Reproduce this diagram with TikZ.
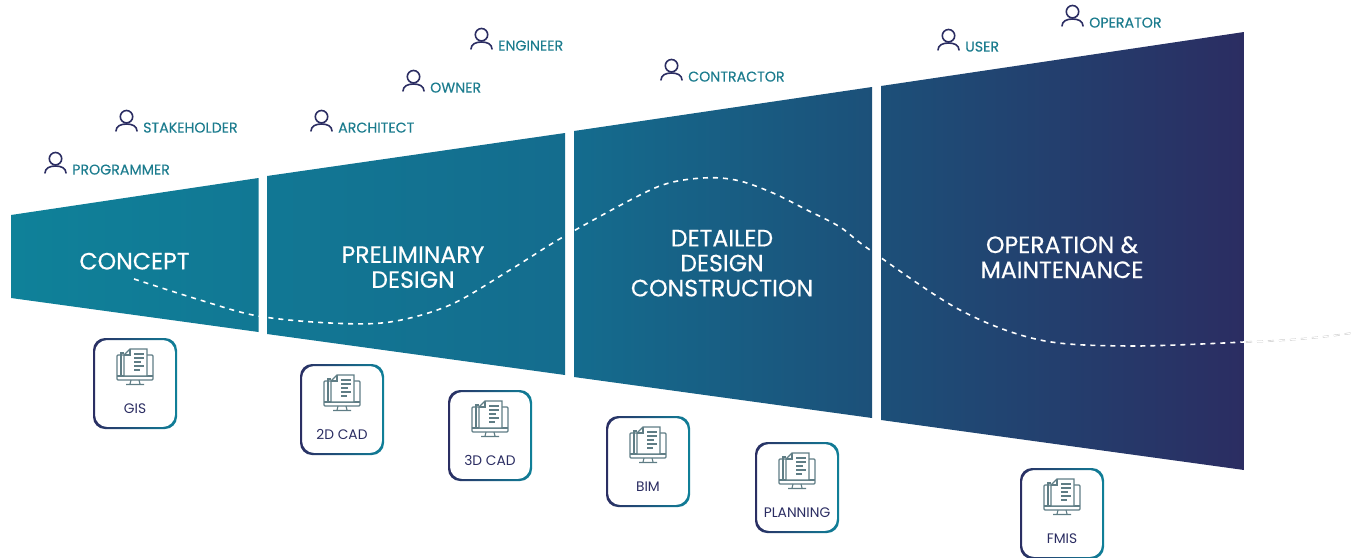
\documentclass[tikz,border=0pt]{standalone}
\usepackage{fontspec}
\setmainfont{Poppins}
\newfontfamily\heavyfont[FakeBold=0.35]{Poppins}
\newfontfamily\midfont[FakeBold=0.2]{Poppins}
\usetikzlibrary{calc}
\definecolor{teal1}{HTML}{0F8199}
\definecolor{grada}{HTML}{146C8E}
\definecolor{gradb}{HTML}{1C5079}
\definecolor{navy1}{HTML}{2B2D62}
\definecolor{labelteal}{HTML}{1C7C8E}
\definecolor{icongray}{HTML}{5F7D85}
\pgfdeclarehorizontalshading{funnelgrad}{100bp}{
  color(0bp)=(teal1);
  color(25bp)=(teal1);
  color(47.85bp)=(grada);
  color(60bp)=(gradb);
  color(75bp)=(navy1);
  color(100bp)=(navy1)}
\tikzset{
  x=1pt,y=-1pt,
  phase/.style={text=white,font=\heavyfont\fontsize{23.6}{25}\selectfont,align=center,inner sep=0pt},
  rolelabel/.style={text=labelteal,font=\midfont\fontsize{14.2}{15}\selectfont,anchor=west,inner sep=0pt},
  toollabel/.style={text=navy1,font=\fontsize{13.8}{15}\selectfont,inner sep=0pt},
  personline/.style={draw=navy1,line width=1.6pt,line cap=round},
  iconline/.style={draw=icongray,line width=1.1pt},
  curveline/.style={white,line width=1.6pt,dash pattern=on 5pt off 5pt},
}
% role: name, icon x, icon y, text
\newcommand{\rolepin}[4]{%
  \draw[personline] (#2+0.5,#3-4.3) circle (6.2);
  \draw[personline] (#2-10,#3+10) .. controls (#2-10,#3+5) and (#2-5,#3+3) .. (#2+0.5,#3+3)
     .. controls (#2+6,#3+3) and (#2+11,#3+5) .. (#2+11,#3+10);
  \node[rolelabel] (#1) at (#2+17,#3+6.6) {#4};
}
% tool: name, left, top, text
\newcommand{\toolcard}[4]{%
  \begin{scope}[even odd rule]
    \clip[rounded corners=12pt] (#2-1,#3-1) rectangle (#2+83,#3+90)
      (#2+1,#3+1) rectangle (#2+81,#3+88);
    \shade[left color=navy1,right color=teal1] (#2-2,#3-2) rectangle (#2+84,#3+91);
  \end{scope}
  \begin{scope}[shift={(#2+41,#3)}]
    \draw[iconline,rounded corners=1pt] (-11,16) -- (-18,16) -- (-18,41) -- (18,41) -- (18,16) -- (12,16);
    \draw[iconline] (-18,37) -- (18,37);
    \draw[iconline] (-4,41) -- (-5,45) (4,41) -- (5,45) (-9,45.5) -- (9,45.5);
    \draw[iconline] (-14,37) -- (-14,14) -- (-11,14);
    \draw[iconline,fill=white] (-5,10) -- (12,10) -- (12,37) -- (-11,37) -- (-11,16) -- cycle;
    \draw[iconline] (-5,10) -- (-5,16) -- (-11,16);
    \foreach \yy/\xx in {15/9,19/9,23/6,27/9,31/5}{\draw[iconline] (-1,\yy) -- (\xx,\yy);}
  \end{scope}
  \node[toollabel] (#1) at (#2+41,#3+69.5) {#4};
}
\begin{document}
\begin{tikzpicture}
\useasboundingbox (0,0) rectangle (1352,557);
\begin{scope}
  \clip (11,215) -- (258.5,178) -- (258.5,332) -- (11,298) -- cycle
        (267,176) -- (565,133) -- (565,375) -- (267,334) -- cycle
        (574,131) -- (872,87) -- (872,418) -- (574,377) -- cycle
        (881,86) -- (1244,32) -- (1244,470) -- (881,420) -- cycle;
  \shade[shading=funnelgrad] (11,20) rectangle (1244,480);
\end{scope}
% wave
\draw[curveline] plot[smooth,tension=0.55] coordinates {(134,279) (200,300) (258,316) (330,323) (390,322) (450,305) (510,270) (563,237) (640,195) (673,182) (710,177.7) (740,181) (773,193) (807,210) (840,227) (870,250) (960,310) (1040,340) (1130,346) (1244,342)};
\draw[gray!45,line width=1.8pt,dash pattern=on 6pt off 5pt] (1246,342) .. controls (1280,341) and (1320,338) .. (1352,333);
\draw[white,line width=0.9pt,dash pattern=on 6pt off 5pt] (1246,342) .. controls (1280,341) and (1320,338) .. (1352,333);
% phases
\node[phase] (concept) at (134.5,261.2) {CONCEPT};
\node[phase] (prelim) at (413,267.2) {PRELIMINARY\\DESIGN};
\node[phase] (detail) at (722,263.2) {DETAILED\\DESIGN\\CONSTRUCTION};
\node[phase] (oper) at (1062,257.2) {OPERATION \&\\MAINTENANCE};
% roles
\rolepin{programmer}{55}{163}{PROGRAMMER}
\rolepin{stakeholder}{126}{121}{STAKEHOLDER}
\rolepin{architect}{321}{121}{ARCHITECT}
\rolepin{owner}{413}{81}{OWNER}
\rolepin{engineer}{481}{39}{ENGINEER}
\rolepin{contractor}{671}{70}{CONTRACTOR}
\rolepin{user}{948}{40}{USER}
\rolepin{operator}{1072}{16}{OPERATOR}
% tools
\toolcard{gis}{94}{339}{GIS}
\toolcard{cad2}{301}{365}{2D CAD}
\toolcard{cad3}{449}{391}{3D CAD}
\toolcard{bim}{607}{417}{BIM}
\toolcard{planning}{756}{443}{PLANNING}
\toolcard{fmis}{1021}{469}{FMIS}
\end{tikzpicture}
\end{document}
